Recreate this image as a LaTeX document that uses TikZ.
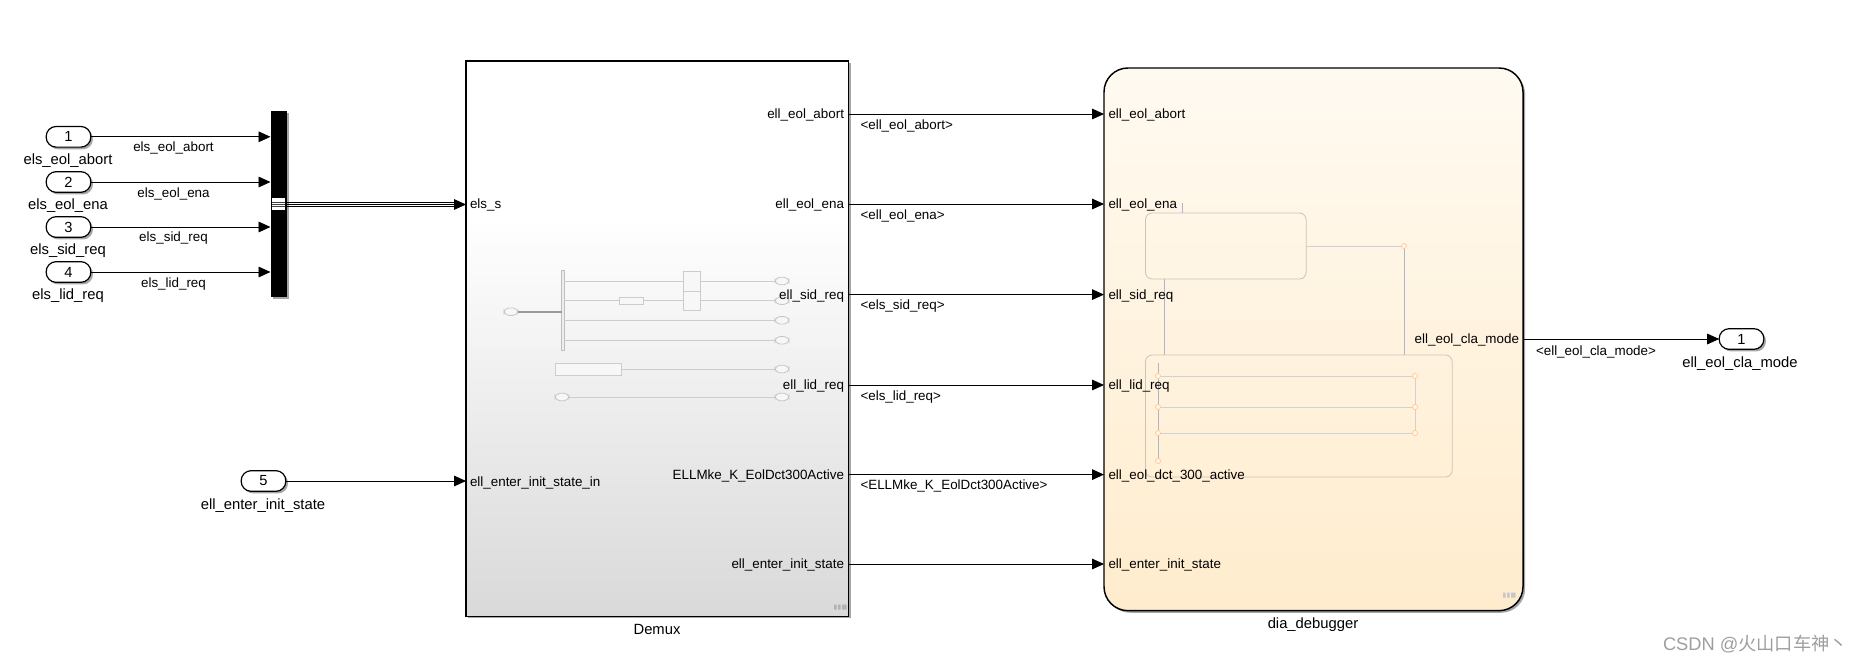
\documentclass[tikz,border=0pt]{standalone}
\usepackage{fontspec}
\setmainfont{Liberation Sans}
\newfontfamily\cjk{Noto Sans CJK SC}
\usetikzlibrary{arrows.meta,shadows}
\definecolor{dmtop}{HTML}{FFFFFF}
\definecolor{dmbot}{HTML}{D9D9D9}
\definecolor{chtop}{HTML}{FFFAF1}
\definecolor{chbot}{HTML}{FFECCD}
\pgfdeclareverticalshading{demuxgrad}{100bp}{color(0bp)=(dmbot); color(25bp)=(dmbot); color(61bp)=(dmtop); color(75bp)=(dmtop); color(100bp)=(dmtop)}
\pgfdeclareverticalshading{chartgrad}{100bp}{color(0bp)=(chbot); color(25bp)=(chbot); color(75bp)=(chtop); color(100bp)=(chtop)}
\newcommand{\pnum}[1]{\raisebox{-0.8pt}{#1}}
\tikzset{
  px/.style={inner sep=0pt,outer sep=0pt},
  sg/.style={draw=black,line width=0.7pt,-{Triangle[length=9pt,width=8pt]}},
  sgplain/.style={draw=black,line width=0.6pt},
  shade1/.style={drop shadow={shadow xshift=1.6pt,shadow yshift=-1.6pt,opacity=.35,fill=black}},
  portbox/.style={px,draw=black,line width=0.9pt,fill=white,rounded corners=7.5pt,minimum width=33.5pt,minimum height=15.5pt,font=\fontsize{11}{13}\selectfont,shade1},
  lab/.style={px,font=\fontsize{10.05}{12}\selectfont,text=black,yshift=-1.1pt},
  outer/.style={px,font=\fontsize{11.1}{13}\selectfont,text=black,anchor=mid,yshift=-1.1pt},
  gline/.style={draw=black!20,line width=0.75pt},
  gbox/.style={px,draw=black!20,line width=0.6pt,fill=white!97!black},
  gport/.style={px,draw=black!22,line width=0.6pt,fill=white!97!black,rounded corners=3.6pt,minimum width=10.5pt,minimum height=5.5pt},
  stbox/.style={px,draw=brown!45!black!30,line width=0.6pt,rounded corners=5pt},
  trline/.style={draw=black!18,line width=0.6pt},
  bluel/.style={draw=blue!30!black!30,line width=0.55pt},
  junc/.style={circle,px,draw=orange!45,line width=0.5pt,fill=orange!8,minimum size=3.8pt},
}
\begin{document}
\begin{tikzpicture}[x=0.75pt,y=-0.75pt]
\useasboundingbox (0,0) rectangle (1863,664);
% main blocks
\node[px,draw=black,line width=0.9pt,shading=demuxgrad,shade1,minimum width=287pt,minimum height=416.5pt,anchor=north west] (demux) at (466,61) {};
\node[px,draw=black,line width=1.1pt,shading=chartgrad,shade1,rounded corners=18pt,minimum width=314.25pt,minimum height=407pt,anchor=north west] (chart) at (1104,68) {};
\node[outer] (demuxname) at (657,630) {Demux};
\node[outer] (chartname) at (1313,624) {dia\_debugger};
% mux
\node[px,fill=black,shade1,minimum width=12.5pt,minimum height=139.5pt,anchor=north west] (mux) at (270.5,111) {};
\node[px,fill=white,minimum width=9.75pt,minimum height=9pt] (muxw) at (278.8,204) {};
\draw[black!75,line width=0.55pt] (272,202.3) -- (285,202.3) (272,204.5) -- (285,204.5) (272,206.7) -- (285,206.7);
% inports
\node[portbox] (p1) at (68.5,136.8) {\pnum{1}};
\node[portbox] (p2) at (68.5,182) {\pnum{2}};
\node[portbox] (p3) at (68.5,227) {\pnum{3}};
\node[portbox] (p4) at (68.5,272) {\pnum{4}};
\node[portbox] (p5) at (263.5,481) {\pnum{5}};
\node[outer] (p1n) at (68,160) {els\_eol\_abort};
\node[outer] (p2n) at (68,205) {els\_eol\_ena};
\node[outer] (p3n) at (68,250) {els\_sid\_req};
\node[outer] (p4n) at (68,295) {els\_lid\_req};
\node[outer] (p5n) at (263,505) {ell\_enter\_init\_state};
\coordinate (m1) at (270.5,136.8);
\coordinate (m2) at (270.5,182);
\coordinate (m3) at (270.5,227);
\coordinate (m4) at (270.5,272);
\coordinate (mo) at (287,204.5);
\coordinate (ds) at (466,204.5);
\coordinate (d5) at (466,481);
\draw[sg] (p1.east) -- (m1);
\draw[sg] (p2.east) -- (m2);
\draw[sg] (p3.east) -- (m3);
\draw[sg] (p4.east) -- (m4);
\draw[sg] (p5.east) -- (d5);
\draw[sgplain] (287,202.3) -- (456,202.3) (287,206.7) -- (456,206.7);
\draw[sg,line width=0.6pt] (mo) -- (ds);
\node[lab,anchor=mid] (e1) at (173.5,147) {els\_eol\_abort};
\node[lab,anchor=mid] (e2) at (173.5,193) {els\_eol\_ena};
\node[lab,anchor=mid] (e3) at (173.5,237) {els\_sid\_req};
\node[lab,anchor=mid] (e4) at (173.5,283) {els\_lid\_req};
% demux thumbnail
\node[gport] (i0) at (511,311.7) {};
\node[px,draw=black!25,line width=0.5pt,fill=black!7,minimum width=2.2pt,minimum height=60.5pt,anchor=north] (ibar) at (563,270) {};
\draw[draw=black!40,line width=1.5pt] (i0.east) -- (ibar.west |- i0.east);
\node[gport] (o1) at (782,281) {};
\node[gport] (o2) at (782,300.7) {};
\node[gport] (o3) at (782,320.3) {};
\node[gport] (o4) at (782,340.3) {};
\node[gport] (o5) at (782,369) {};
\node[gport] (o6) at (782,397) {};
\node[gport] (i6) at (562,397) {};
\node[gbox,minimum width=12.75pt,minimum height=15pt,anchor=north west] (sw1) at (683,271) {};
\node[gbox,minimum width=12.75pt,minimum height=14.25pt,anchor=north west] (sw2) at (683,291) {};
\node[gbox,minimum width=18.5pt,minimum height=5.2pt,anchor=north west] (sb) at (619,297) {};
\node[gbox,minimum width=49.5pt,minimum height=9pt,anchor=north west] (bigb) at (555,363) {};
\coordinate (b1) at (564.3,281);
\coordinate (b2) at (564.3,300.7);
\coordinate (b3) at (564.3,320.3);
\coordinate (b4) at (564.3,340.3);
\draw[gline] (b1) -- (sw1.west |- b1);
\draw[gline] (sw1.east |- o1) -- (o1.west);
\draw[gline] (b2) -- (sb.west |- b2);
\draw[gline] (sb.east |- b2) -- (sw2.west |- b2);
\draw[gline] (sw2.east |- o2) -- (o2.west);
\draw[gline] (b3) -- (o3.west);
\draw[gline] (b4) -- (o4.west);
\draw[gline] (bigb.east |- o5) -- (o5.west);
\draw[gline] (i6.east) -- (o6.west);
% chart thumbnail
\node[stbox,minimum width=120.5pt,minimum height=49.5pt,anchor=north west] (s1) at (1145.5,213) {};
\node[stbox,minimum width=230pt,minimum height=91.5pt,anchor=north west] (s2) at (1145.5,355) {};
\coordinate (d0) at (1182,203);
\draw[bluel] (d0) -- (1182,213);
\node[junc] (j0) at (1404,246) {};
\draw[trline] (j0) -- (1306,246);
\draw[bluel] (j0) -- (1404,355);
\draw[bluel] (1164,279) -- (1164,355);
\coordinate (t0) at (1158,363);
\node[junc] (ja) at (1158,376) {};
\node[junc] (jb) at (1158,407) {};
\node[junc] (jc) at (1158,433) {};
\node[junc] (jd) at (1158,461) {};
\node[junc] (ka) at (1415,376) {};
\node[junc] (kb) at (1415,407) {};
\node[junc] (kc) at (1415,433) {};
\draw[bluel] (t0) -- (ja);
\draw[trline] (ja) -- (ka);
\draw[trline] (jb) -- (kb);
\draw[trline] (kc) -- (jc);
\draw[bluel] (ja) -- (jb);
\draw[bluel] (jb) -- (jc);
\draw[bluel] (jc) -- (jd);
\draw[trline] (ka) -- (kb);
\draw[trline] (kb) -- (kc);
% block signals
\foreach \n/\y in {1/114,2/204,3/294.6,4/385,5/474.6,6/564}{
  \coordinate (dr\n) at (849,\y);
  \coordinate (cl\n) at (1104,\y);
  \draw[sg] (dr\n) -- (cl\n);
}
\node[lab,anchor=mid west] (il) at (470,204) {els\_s};
\node[lab,anchor=mid west] (il5) at (470,482) {ell\_enter\_init\_state\_in};
\node[lab,anchor=mid east] (dl1) at (844,114) {ell\_eol\_abort};
\node[lab,anchor=mid east] (dl2) at (844,204) {ell\_eol\_ena};
\node[lab,anchor=mid east] (dl3) at (844,294.6) {ell\_sid\_req};
\node[lab,anchor=mid east] (dl4) at (844,385) {ell\_lid\_req};
\node[lab,anchor=mid east] (dl5) at (844,474.6) {ELLMke\_K\_EolDct300Active};
\node[lab,anchor=mid east] (dl6) at (844,564) {ell\_enter\_init\_state};
\node[lab,anchor=mid west] (cl1t) at (1108.5,114) {ell\_eol\_abort};
\node[lab,anchor=mid west] (cl2t) at (1108.5,204) {ell\_eol\_ena};
\node[lab,anchor=mid west] (cl3t) at (1108.5,294.6) {ell\_sid\_req};
\node[lab,anchor=mid west] (cl4t) at (1108.5,385) {ell\_lid\_req};
\node[lab,anchor=mid west] (cl5t) at (1108.5,474.6) {ell\_eol\_dct\_300\_active};
\node[lab,anchor=mid west] (cl6t) at (1108.5,564) {ell\_enter\_init\_state};
\node[lab,anchor=mid east] (cr) at (1519,339) {ell\_eol\_cla\_mode};
\node[lab,anchor=mid west] (b1t) at (860.5,125) {<ell\_eol\_abort>};
\node[lab,anchor=mid west] (b2t) at (860.5,215) {<ell\_eol\_ena>};
\node[lab,anchor=mid west] (b3t) at (860.5,305) {<els\_sid\_req>};
\node[lab,anchor=mid west] (b4t) at (860.5,396) {<els\_lid\_req>};
\node[lab,anchor=mid west] (b5t) at (860.5,485) {<ELLMke\_K\_EolDct300Active>};
\node[lab,anchor=mid west] (bot) at (1536,350.5) {<ell\_eol\_cla\_mode>};
% outport
\node[portbox] (q1) at (1741.5,339) {\pnum{1}};
\node[outer] (q1n) at (1740,363) {ell\_eol\_cla\_mode};
\coordinate (cro) at (1523,339);
\draw[sg] (cro) -- (q1.west);
% block icons
\fill[black!30] (834,604.5) rectangle (836.5,609.5) (838,604.5) rectangle (840.5,609.5) (842,604.5) rectangle (846.5,609.5);
\fill[black!22] (1503,592.5) rectangle (1505.5,597.5) (1507,592.5) rectangle (1509.5,597.5) (1511,592.5) rectangle (1515.5,597.5);
% watermark
\node[px,anchor=mid west,text=black!38,font=\fontsize{13.7}{16}\selectfont,yshift=-0.8pt] (wm) at (1663,646) {CSDN @{\cjk 火山口车神丶}};
\end{tikzpicture}
\end{document}
